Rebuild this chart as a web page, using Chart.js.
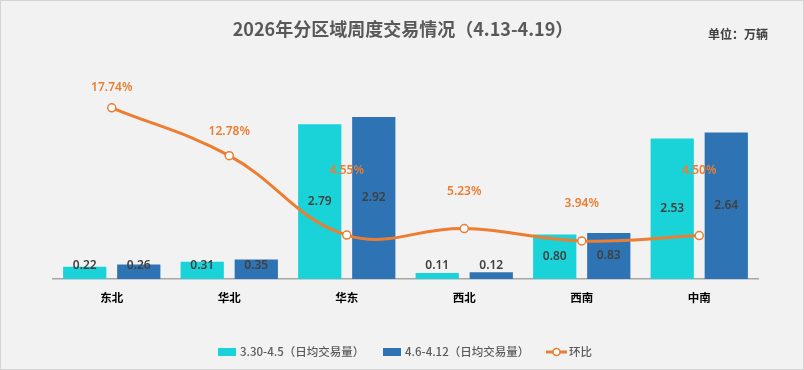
<html>
<head>
    <meta charset="utf-8">
    <script src="https://cdn.jsdelivr.net/npm/chart.js@4.4.1/dist/chart.umd.min.js"></script>
    <style>
        body { margin: 0; background: #f2f2f2; }
    </style>
</head>

<body>
    <canvas id="myChart" width="804" height="370"></canvas>
    <script>
        const categories = ['东北', '华北', '华东', '西北', '西南', '中南']
        const week1 = [0.22, 0.31, 2.79, 0.11, 0.80, 2.53]
        const week2 = [0.26, 0.35, 2.92, 0.12, 0.83, 2.64]
        const wow = [17.74, 12.78, 4.55, 5.23, 3.94, 4.50]
        const seriesNames = ['3.30-4.5（日均交易量）', '4.6-4.12（日均交易量）', '环比']

        const FONT = '"Noto Sans", "Noto Sans CJK SC", sans-serif'
        const CJK = '"Noto Sans CJK SC", "Noto Sans", sans-serif'
        const CYAN = '#19d3d9'
        const BLUE = '#2e74b5'
        const ORANGE = '#ed7d31'

        // vertical offset of the % labels, relative to their points
        const pctLabelDy = [-20, -24, -65, -37, -37, -65]

        const extras = {
            id: 'extras',
            beforeDraw(chart) {
                const ctx = chart.ctx
                ctx.save()
                ctx.fillStyle = '#f2f2f2'
                ctx.fillRect(0, 0, chart.width, chart.height)
                ctx.strokeStyle = '#d4d4d4'
                ctx.lineWidth = 1
                ctx.strokeRect(0.5, 0.5, chart.width - 1, chart.height - 1)

                ctx.textBaseline = 'middle'
                ctx.fillStyle = '#595959'
                ctx.font = 'bold 18px ' + CJK
                ctx.textAlign = 'center'
                ctx.fillText('2026年分区域周度交易情况（4.13-4.19）', 403, 29)
                ctx.fillStyle = '#404040'
                ctx.font = 'bold 12px ' + CJK
                ctx.textAlign = 'right'
                ctx.fillText('单位：万辆', 768, 34)

                // legend
                ctx.font = '500 11.5px ' + CJK
                ctx.textAlign = 'left'
                const ly = 352
                ctx.fillStyle = CYAN
                ctx.fillRect(218, ly - 4, 18, 8)
                ctx.fillStyle = '#595959'
                ctx.fillText(seriesNames[0], 240, ly)
                ctx.fillStyle = BLUE
                ctx.fillRect(383, ly - 4, 18, 8)
                ctx.fillStyle = '#595959'
                ctx.fillText(seriesNames[1], 405, ly)
                ctx.strokeStyle = ORANGE
                ctx.lineWidth = 3
                ctx.beginPath()
                ctx.moveTo(546, ly)
                ctx.lineTo(567, ly)
                ctx.stroke()
                ctx.fillStyle = '#fff'
                ctx.lineWidth = 1.5
                ctx.beginPath()
                ctx.arc(556.5, ly, 3.5, 0, Math.PI * 2)
                ctx.fill()
                ctx.stroke()
                ctx.fillStyle = '#595959'
                ctx.fillText(seriesNames[2], 569, ly)
                ctx.restore()
            },
            afterDatasetsDraw(chart) {
                const ctx = chart.ctx
                ctx.save()
                ctx.textAlign = 'center'
                ctx.textBaseline = 'middle'
                ctx.font = '600 12px ' + FONT
                ctx.fillStyle = '#404040'
                const bottom = chart.chartArea.bottom
                ;[0, 1].forEach(d => {
                    const vals = d === 0 ? week1 : week2
                    chart.getDatasetMeta(d).data.forEach((bar, i) => {
                        const y = Math.min((bar.y + bar.base) / 2, bottom - 13)
                        ctx.fillText(vals[i].toFixed(2), bar.x, y)
                    })
                })
                ctx.font = '600 12px ' + FONT
                ctx.fillStyle = ORANGE
                chart.getDatasetMeta(2).data.forEach((pt, i) => {
                    ctx.fillText(wow[i].toFixed(2) + '%', pt.x, pt.y + pctLabelDy[i])
                })
                ctx.restore()
            }
        }

        const ctx = document.getElementById('myChart').getContext('2d')
        const myChart = new Chart(ctx, {
            type: 'bar',
            data: {
                labels: categories,
                datasets: [{
                    label: seriesNames[0],
                    data: week1,
                    backgroundColor: CYAN,
                    yAxisID: 'y',
                    order: 1
                }, {
                    label: seriesNames[1],
                    data: week2,
                    backgroundColor: BLUE,
                    yAxisID: 'y',
                    order: 1
                }, {
                    type: 'line',
                    label: seriesNames[2],
                    data: wow,
                    borderColor: ORANGE,
                    borderWidth: 3,
                    tension: 0.4,
                    pointRadius: 4,
                    pointBorderWidth: 1.5,
                    pointBackgroundColor: '#fff',
                    pointBorderColor: ORANGE,
                    yAxisID: 'y1',
                    order: 0
                }]
            },
            options: {
                responsive: false,
                animation: false,
                layout: { padding: { left: 53, right: 46, top: 57, bottom: 41 } },
                datasets: {
                    bar: { categoryPercentage: 0.92, barPercentage: 0.8 }
                },
                plugins: {
                    legend: { display: false },
                    tooltip: { enabled: false }
                },
                scales: {
                    x: {
                        grid: { display: false, drawTicks: false },
                        border: { display: true, color: '#a6a6a6', width: 1.5 },
                        ticks: {
                            padding: 12,
                            color: '#000',
                            font: { family: CJK, size: 11.5, weight: 'bold' }
                        },
                        afterFit: s => { s.height = 50 }
                    },
                    y: { display: false, min: 0, max: 4 },
                    y1: { display: false, min: 0, max: 23 }
                }
            },
            plugins: [extras]
        })
    </script>
</body>

</html>
